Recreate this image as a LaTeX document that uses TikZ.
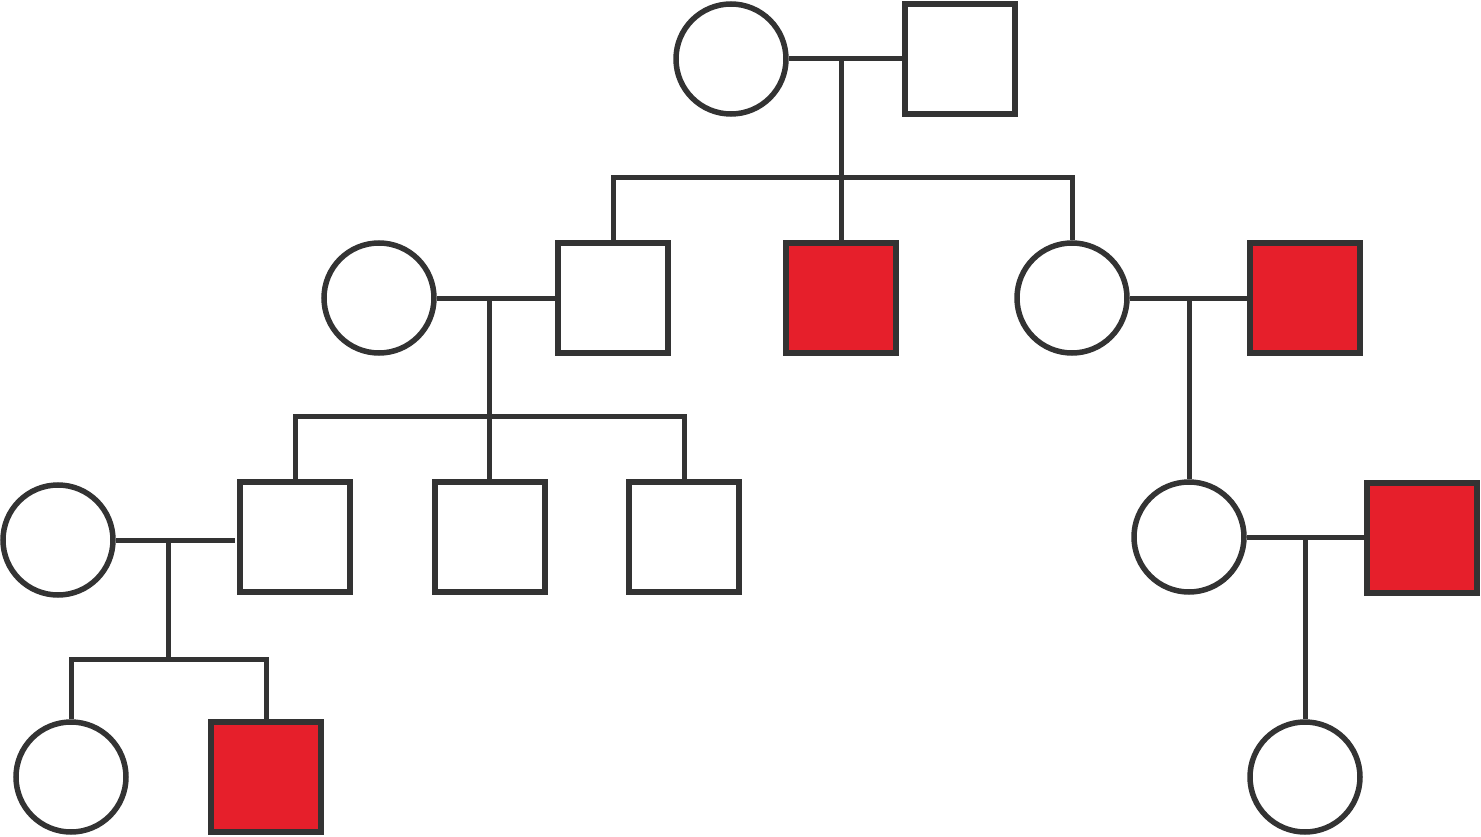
\documentclass[tikz,border=0pt]{standalone}
\begin{document}
\begin{tikzpicture}[x=1pt,y=-1pt,
  female/.style={circle,draw=lineclr,line width=5.5pt,fill=white,minimum size=110pt,inner sep=0pt},
  male/.style={rectangle,draw=lineclr,line width=5.5pt,fill=white,minimum size=110pt,inner sep=0pt},
  affected/.style={rectangle,draw=lineclr,line width=6pt,fill=affred,minimum size=110pt,inner sep=0pt},
  link/.style={draw=lineclr,line width=5pt}]
\definecolor{lineclr}{HTML}{333333}
\definecolor{affred}{HTML}{E61F2B}
\useasboundingbox (0,0) rectangle (1481,837);
% generation 1
\node[female] (f1) at (731,59) {};
\node[male] (m1) at (960,59) {};
% generation 2
\node[male] (a) at (613,298) {};
\node[affected] (b) at (841,298) {};
\node[female] (c) at (1072,298) {};
\node[female] (w2) at (379,298) {};
\node[affected] (d) at (1305,298) {};
% generation 3
\node[male] (s1) at (295,537) {};
\node[male] (s2) at (490,537) {};
\node[male] (s3) at (684,537) {};
\node[female] (w3) at (58,540) {};
\node[female] (e) at (1189,537) {};
\node[affected] (g) at (1422,538) {};
% generation 4
\node[female] (k1) at (71,777) {};
\node[affected] (k2) at (266,777) {};
\node[female] (h) at (1305,777) {};
% coordinates of junctions
\coordinate (j1) at (841,59);
\coordinate (sb1) at (841,178);
\coordinate (j2) at (489,298);
\coordinate (sb2) at (489,416);
\coordinate (j3) at (1189,298);
\coordinate (j4) at (168,540);
\coordinate (sb4) at (168,659);
\coordinate (j5) at (1305,537);
% gen 1 family
\draw[link] (f1.east) -- (m1.west);
\draw[link] (j1) -- (sb1);
\draw[link] (a.north) |- (sb1) -| (c.north);
\draw[link] (sb1) -- (b.north);
% left gen 2 family
\draw[link] (w2.east) -- (a.west);
\draw[link] (j2) -- (sb2);
\draw[link] (s1.north) |- (sb2) -| (s3.north);
\draw[link] (sb2) -- (s2.north -| sb2);
% right gen 2 family
\draw[link] (c.east) -- (d.west);
\draw[link] (j3) -- (e.north);
% left gen 3 family
\draw[link,shorten >=2pt] (w3.east) -- (w3.east -| s1.west);
\draw[link] (j4) -- (sb4);
\draw[link] (k1.north) |- (sb4) -| (k2.north);
% right gen 3 family
\draw[link] (e.east) -- (g.west |- e.east);
\draw[link] (j5) -- (h.north);
\end{tikzpicture}
\end{document}
